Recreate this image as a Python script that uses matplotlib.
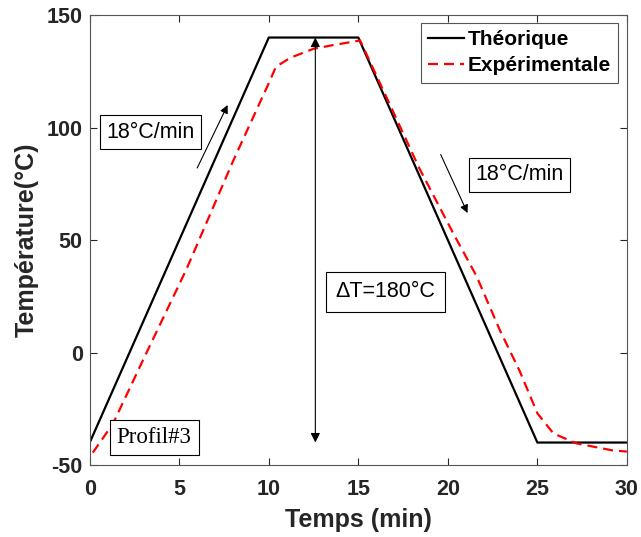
import numpy as np
import matplotlib
matplotlib.use('Agg')
from matplotlib import pyplot as plt

plt.rcParams['axes.unicode_minus'] = False

# Theoretical thermal cycle profile
t_theo = [0, 10, 15, 25, 30]
T_theo = [-40, 140, 140, -40, -40]

t_exp = [0.17, 1.3, 2.96, 5.4, 8.0, 9.9, 10.4, 11.2, 12.5, 13.5, 15.1,
         16.6, 18.4, 20.3, 21.6, 22.9, 24.0, 25.0, 25.9, 27.2, 29.2, 30.0]
T_exp = [-44.5, -31.6, -3.6, 37.0, 85, 118, 127, 131, 135, 136.5, 138.7,
         113, 82, 53, 34, 10, -8, -27, -36, -40.4, -43.5, -44]

xticks = [0, 5, 10, 15, 20, 25, 30]
yticks = [-50, 0, 50, 100, 150]

txt_col = '#262626'
sans = 'Liberation Sans'

fig = plt.figure(figsize=(6.41, 5.37), dpi=100)
ax = fig.add_axes([0.140, 0.134, 0.838, 0.838])

ax.plot(t_theo, T_theo, 'k-', linewidth=1.6, label='Théorique')
ax.plot(t_exp, T_exp, color='red', linestyle=(0, (4.5, 2.7)), linewidth=1.6,
        label='Expérimentale')

ax.set_xlim(0, 30)
ax.set_ylim(-50, 150)
ax.set_xticks(xticks)
ax.set_yticks(yticks)
ax.tick_params(direction='in', top=True, right=True, length=5, width=0.8,
               color=txt_col, labelsize=15.5, labelcolor=txt_col)
ax.tick_params(axis='x', pad=10)
ax.tick_params(axis='y', pad=5)
for lab in ax.get_xticklabels() + ax.get_yticklabels():
    lab.set_fontweight('bold')
    lab.set_fontfamily(sans)
for sp in ax.spines.values():
    sp.set_color('#555555')
    sp.set_linewidth(0.8)

ax.set_xlabel('Temps (min)', fontsize=18, fontweight='bold', family=sans,
              color=txt_col, labelpad=6)
ax.set_ylabel('Température(°C)', fontsize=18, fontweight='bold', family=sans,
              color=txt_col, labelpad=6)

leg = ax.legend(loc='upper right', bbox_to_anchor=(0.984, 0.983), borderaxespad=0,
                prop={'family': sans, 'weight': 'bold', 'size': 15},
                handlelength=1.7, handletextpad=0.2, borderpad=0.35,
                labelspacing=0.35, fancybox=False, framealpha=1)
leg.get_frame().set_edgecolor('#555555')
leg.get_frame().set_linewidth(0.8)

box = dict(boxstyle='square,pad=0.3', fc='white', ec='black', lw=0.8)

# vertical delta-T arrow
ax.annotate('', xy=(12.6, 140), xytext=(12.6, -40),
            arrowprops=dict(arrowstyle='<|-|>', color='black', lw=0.8,
                            mutation_scale=14, shrinkA=0, shrinkB=0))
ax.text(16.5, 27, 'ΔT=180°C', fontsize=15.5, family=sans, va='center',
        ha='center', bbox=dict(boxstyle='square,pad=0.45', fc='white',
                               ec='black', lw=0.8))

# heating ramp
ax.annotate('', xy=(7.7, 110), xytext=(6.0, 82),
            arrowprops=dict(arrowstyle='-|>', color='black', lw=0.8,
                            mutation_scale=12, shrinkA=0, shrinkB=0))
ax.text(3.4, 98, '18°C/min', fontsize=15.5, family=sans, va='center',
        ha='center', bbox=box)

# cooling ramp
ax.annotate('', xy=(21.1, 62), xytext=(19.6, 88),
            arrowprops=dict(arrowstyle='-|>', color='black', lw=0.8,
                            mutation_scale=12, shrinkA=0, shrinkB=0))
ax.text(24.0, 79, '18°C/min', fontsize=15.5, family=sans, va='center',
        ha='center', bbox=box)

ax.text(3.6, -37.8, 'Profil#3', fontsize=16.5, family='Liberation Serif',
        va='center', ha='center', bbox=box)

fig.savefig('out.png', dpi=100)
